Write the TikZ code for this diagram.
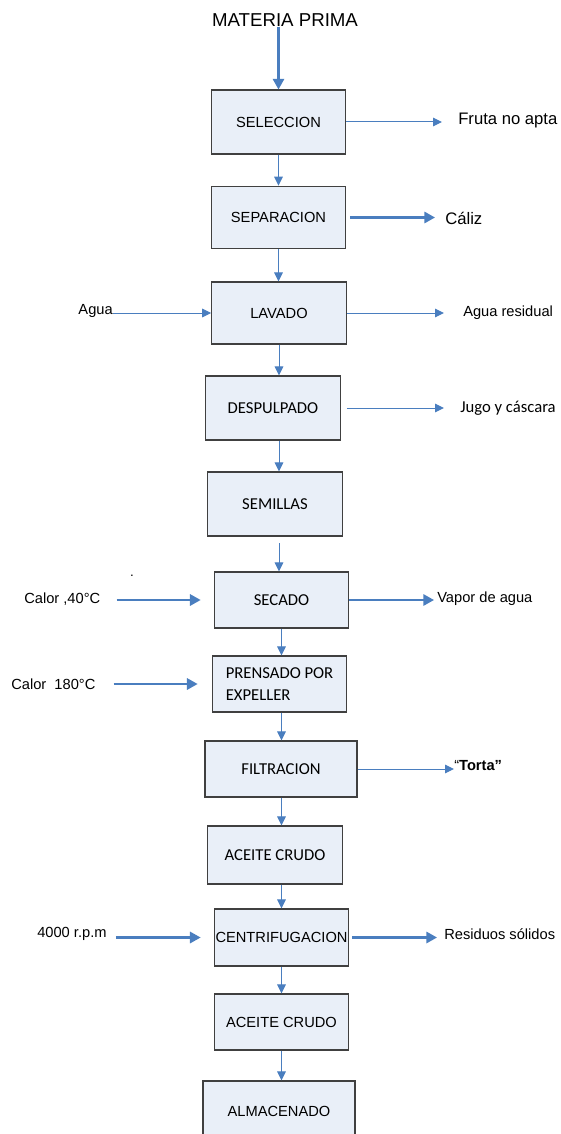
\documentclass[tikz,border=0pt]{standalone}
\usepackage{fontspec}
\setmainfont{Liberation Sans}
\newfontfamily\calibri{Carlito}
\usetikzlibrary{arrows.meta}
\definecolor{boxfill}{HTML}{E9EFF8}
\definecolor{boxline}{HTML}{404040}
\definecolor{flowblue}{HTML}{4A7EBF}
\tikzset{
  stage/.style={draw=boxline, fill=boxfill, line width=0.8pt, minimum width=101pt, minimum height=48pt, inner sep=0pt, font=\fontsize{11}{13}\selectfont},
  calib/.style={font=\calibri\fontsize{12.5}{17}\selectfont},
  flow/.style={draw=flowblue, line width=0.75pt, -{Triangle[length=6.75pt,width=6.5pt]}},
  flowthick/.style={draw=flowblue, line width=1.6pt, -{Triangle[length=8pt,width=8.5pt]}},
  lbl/.style={inner sep=0pt, anchor=west, font=\fontsize{11}{13}\selectfont},
}
\begin{document}
\begin{tikzpicture}[x=0.75pt, y=-0.75pt]
\useasboundingbox (0,0) rectangle (560,1134);
% Title of the process
\node[inner sep=0pt, font=\fontsize{14}{16}\selectfont] (mp) at (285,20) {MATERIA PRIMA};
% Process stages, top to bottom
\node[stage] (sel) at (278.5,122) {SELECCION};
\node[stage, minimum height=47pt] (sep) at (278.5,217.5) {SEPARACION};
\node[stage, minimum height=46.5pt] (lav) at (279,313) {LAVADO};
\node[stage, calib] (desp) at (273,408) {DESPULPADO};
\node[stage, calib] (sem) at (275,504) {SEMILLAS};
\node[stage, calib, minimum height=42pt] (sec) at (281.5,600) {SECADO};
\node[stage, calib, minimum height=42pt, align=left] (pren) at (279.5,684) {PRENSADO POR\\EXPELLER};
\node[stage, calib, minimum width=114pt, minimum height=42pt] (fil) at (281,769) {FILTRACION};
\node[stage, calib, minimum height=43.5pt] (ac1) at (275,855) {ACEITE CRUDO};
\node[stage, minimum height=42.75pt] (cen) at (281.5,937.5) {CENTRIFUGACION};
\node[stage, minimum height=42pt] (ac2) at (281.5,1022) {ACEITE CRUDO};
\node[stage, minimum width=114pt, minimum height=45pt] (alm) at (279,1111) {ALMACENADO};
% Outputs on the right
\node[lbl, font=\fontsize{12.5}{15}\selectfont] (fruta) at (458,120) {Fruta no apta};
\node[lbl, font=\fontsize{12.5}{15}\selectfont] (caliz) at (445,218) {Cáliz};
\node[lbl] (aguares) at (463,313) {Agua residual};
\node[lbl, calib] (jugo) at (460,408) {Jugo y cáscara};
\node[lbl] (vapor) at (437,599) {Vapor de agua};
\node[lbl] (torta) at (454,766) {“\textbf{Torta”}};
\node[lbl] (resid) at (444,934) {Residuos sólidos};
% Inputs on the left
\node[lbl, anchor=east] (agua) at (113,311) {Agua};
\node[lbl] (calor1) at (24,599) {Calor ,40°C};
\node[lbl] (calor2) at (11,684) {Calor\ \ 180°C};
\node[lbl] (rpm) at (37,934) {4000 r.p.m};
\node[inner sep=0pt] (dot) at (132,576) {.};
% Main line down the stages
\draw[flowthick] (mp.south -| sel.north) -- (sel.north);
\draw[flow] (sel.south) -- (sel.south |- sep.north);
\draw[flow] (sep.south) -- (sep.south |- lav.north);
\draw[flow] (lav.south) -- (lav.south |- desp.north);
\draw[flow] (lav.south |- desp.south) -- (lav.south |- sem.north);
\draw[flow, shorten <=5pt] (lav.south |- sem.south) -- (lav.south |- sec.north);
\draw[flow] (sec.south) -- (sec.south |- pren.north);
\draw[flow] (sec.south |- pren.south) -- (sec.south |- fil.north);
\draw[flow] (sec.south |- fil.south) -- (sec.south |- ac1.north);
\draw[flow] (sec.south |- ac1.south) -- (sec.south |- cen.north);
\draw[flow] (cen.south) -- (ac2.north);
\draw[flow] (ac2.south) -- (ac2.south |- alm.north);
% Arrows to the outputs
\draw[flow, shorten >=12pt] (sel.east) -- (sel.east -| fruta.west);
\draw[flowthick, shorten <=3pt, shorten >=7.5pt] (sep.east) -- (sep.east -| caliz.west);
\draw[flow, shorten >=14.25pt] (lav.east) -- (lav.east -| aguares.west);
\draw[flow, shorten <=4.5pt, shorten >=12pt] (desp.east) -- (desp.east -| jugo.west);
\draw[flowthick, shorten >=2.25pt] (sec.east) -- (sec.east -| vapor.west);
\draw[flow] (fil.east) -- (fil.east -| torta.west);
\draw[flowthick, shorten <=2.25pt, shorten >=5.25pt] (cen.east) -- (cen.east -| resid.west);
% Arrows from the inputs
\draw[flow] (lav.west -| agua.east) -- (lav.west);
\draw[flowthick, shorten <=12pt, shorten >=9.75pt] (sec.west -| calor1.east) -- (sec.west);
\draw[flowthick, shorten <=13.5pt, shorten >=10.5pt] (pren.west -| calor2.east) -- (pren.west);
\draw[flowthick, shorten <=6.75pt, shorten >=9.75pt] (cen.west -| rpm.east) -- (cen.west);
\end{tikzpicture}
\end{document}
